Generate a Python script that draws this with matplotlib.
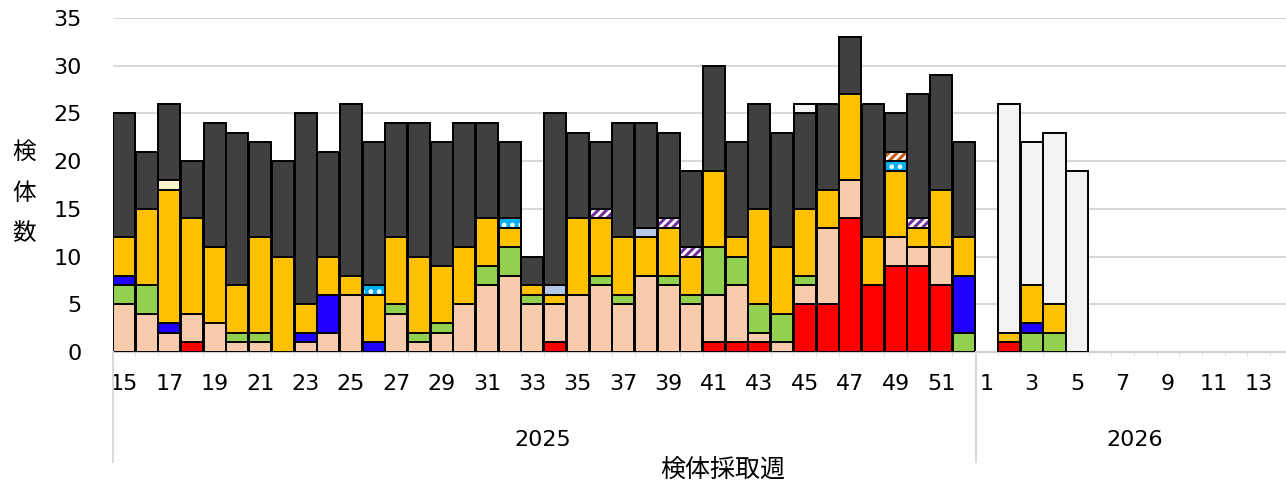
import matplotlib
matplotlib.use('Agg')
import matplotlib.pyplot as plt
from matplotlib.lines import Line2D
import numpy as np

plt.rcParams['font.family'] = ['DejaVu Sans', 'Noto Sans CJK JP']
plt.rcParams['hatch.linewidth'] = 2.2

# Categories: 2025 weeks 15-52, 2026 weeks 1-13
weeks_2025 = list(range(15, 53))
weeks_2026 = list(range(1, 14))
years = ['2025', '2026']

# Series values (stacking order bottom -> top)
red = [0, 0, 0, 1, 0, 0, 0, 0, 0, 0, 0, 0, 0, 0, 0, 0, 0, 0, 0, 1, 0, 0, 0, 0, 0,
       0, 1, 1, 1, 0, 5, 5, 14, 7, 9, 9, 7, 0,
       0, 1, 0, 0, 0, 0, 0, 0, 0, 0, 0, 0, 0]
peach = [5, 4, 2, 3, 3, 1, 1, 0, 1, 2, 6, 0, 4, 1, 2, 5, 7, 8, 5, 4, 6, 7, 5, 8, 7,
         5, 5, 6, 1, 1, 2, 8, 4, 0, 3, 2, 4, 0,
         0, 0, 0, 0, 0, 0, 0, 0, 0, 0, 0, 0, 0]
green = [2, 3, 0, 0, 0, 1, 1, 0, 0, 0, 0, 0, 1, 1, 1, 0, 2, 3, 1, 0, 0, 1, 1, 0, 1,
         1, 5, 3, 3, 3, 1, 0, 0, 0, 0, 0, 0, 2,
         0, 0, 2, 2, 0, 0, 0, 0, 0, 0, 0, 0, 0]
blue = [1, 0, 1, 0, 0, 0, 0, 0, 1, 4, 0, 1, 0, 0, 0, 0, 0, 0, 0, 0, 0, 0, 0, 0, 0,
        0, 0, 0, 0, 0, 0, 0, 0, 0, 0, 0, 0, 6,
        0, 0, 1, 0, 0, 0, 0, 0, 0, 0, 0, 0, 0]
yellow = [4, 8, 14, 10, 8, 5, 10, 10, 3, 4, 2, 5, 7, 8, 6, 6, 5, 2, 1, 1, 8, 6, 6, 4, 5,
          4, 8, 2, 10, 7, 7, 4, 9, 5, 7, 2, 6, 4,
          0, 1, 4, 3, 0, 0, 0, 0, 0, 0, 0, 0, 0]
lightblue = [0] * 19 + [1, 0, 0, 0, 1] + [0] * 27
cyan_dot = [0] * 11 + [1] + [0] * 5 + [1] + [0] * 16 + [1] + [0] * 3 + [0] * 13
brown_hatch = [0] * 34 + [1] + [0] * 3 + [0] * 13
purple_hatch = [0] * 21 + [1, 0, 0, 1, 1] + [0] * 9 + [1, 0, 0] + [0] * 13
cream = [0, 0, 1] + [0] * 35 + [0] * 13
dark = [13, 6, 8, 6, 13, 16, 10, 10, 20, 11, 18, 15, 12, 14, 13, 13, 10, 8, 3, 18, 9, 7, 12, 11, 9,
        8, 11, 10, 11, 12, 10, 9, 6, 14, 4, 13, 12, 10,
        0, 0, 0, 0, 0, 0, 0, 0, 0, 0, 0, 0, 0]
lightgrey = [0] * 30 + [1] + [0] * 7 + [0, 24, 15, 18, 19, 0, 0, 0, 0, 0, 0, 0, 0]

series = [
    (red, '#FF0000', None, None),
    (peach, '#F8CBAD', None, None),
    (green, '#92D050', None, None),
    (blue, '#2000FF', None, None),
    (yellow, '#FFC000', None, None),
    (lightblue, '#B4C7E7', None, None),
    (cyan_dot, '#00B0F0', '..', 'white'),
    (brown_hatch, 'white', '////', '#C55A11'),
    (purple_hatch, 'white', '////', '#7030A0'),
    (cream, '#FFF2CC', None, None),
    (dark, '#404040', None, None),
    (lightgrey, '#F2F2F2', None, None),
]

n = len(weeks_2025) + len(weeks_2026)
x = np.arange(n)

W, H = 1286, 484
fig = plt.figure(figsize=(W / 100, H / 100), dpi=100)
ax = fig.add_axes([112.6 / W, 1 - 352 / H, (W - 112.6) / W, (352 - 18) / H])

bottom = np.zeros(n)
bw = 0.97
for vals, fc, hatch, hc in series:
    v = np.array(vals, dtype=float)
    m = v > 0
    if hatch is None:
        ax.bar(x[m], v[m], bottom=bottom[m], width=bw, color=fc,
               edgecolor='black', linewidth=1.4, zorder=3)
    else:
        ax.bar(x[m], v[m], bottom=bottom[m], width=bw, color=fc,
               edgecolor=hc, hatch=hatch, linewidth=0, zorder=3)
        ax.bar(x[m], v[m], bottom=bottom[m], width=bw, color='none',
               edgecolor='black', linewidth=1.4, zorder=4)
    bottom += v

ax.set_ylim(0, 35)
ax.set_yticks(range(0, 36, 5))
ax.set_xlim(-0.5, 51.2)

tick_pos = [i for i, w in enumerate(weeks_2025) if w % 2 == 1] + \
           [len(weeks_2025) + i for i, w in enumerate(weeks_2026) if w % 2 == 1]
tick_lab = [str(w) for w in weeks_2025 if w % 2 == 1] + \
           [str(w) for w in weeks_2026 if w % 2 == 1]
ax.set_xticks(tick_pos)
ax.set_xticklabels(tick_lab)
ax.set_xticks(np.arange(-0.5, n, 1.0), minor=True)
ax.tick_params(axis='x', which='major', length=0, pad=16, labelsize=16)
ax.tick_params(axis='x', which='minor', length=3, color='#D9D9D9')
ax.tick_params(axis='y', length=0, pad=22, labelsize=16)

ax.grid(axis='y', color='#D9D9D9', linewidth=1.5, zorder=0)
ax.set_axisbelow(True)
for s in ['left', 'top', 'right']:
    ax.spines[s].set_visible(False)
ax.spines['bottom'].set_color('#D0D0D0')
ax.spines['bottom'].set_linewidth(1.5)

# year separators
for px in [112.6, 975.5]:
    fig.add_artist(Line2D([px / W, px / W], [1 - 352 / H, 1 - 462 / H],
                          color='#D9D9D9', linewidth=1.5))

fig.text(543 / W, 1 - 440 / H, years[0], ha='center', va='center', fontsize=16)
fig.text(1135 / W, 1 - 440 / H, years[1], ha='center', va='center', fontsize=16)
fig.text(723 / W, 1 - 470 / H, '検体採取週', ha='center', va='center', fontsize=18,
         family=['Noto Sans CJK JP', 'DejaVu Sans'])
fig.text(24 / W, 1 - 193 / H, '検\n体\n数', ha='center', va='center', fontsize=17,
         linespacing=2.0, family=['Noto Sans CJK JP', 'DejaVu Sans'])

fig.savefig('out.png', dpi=100)
